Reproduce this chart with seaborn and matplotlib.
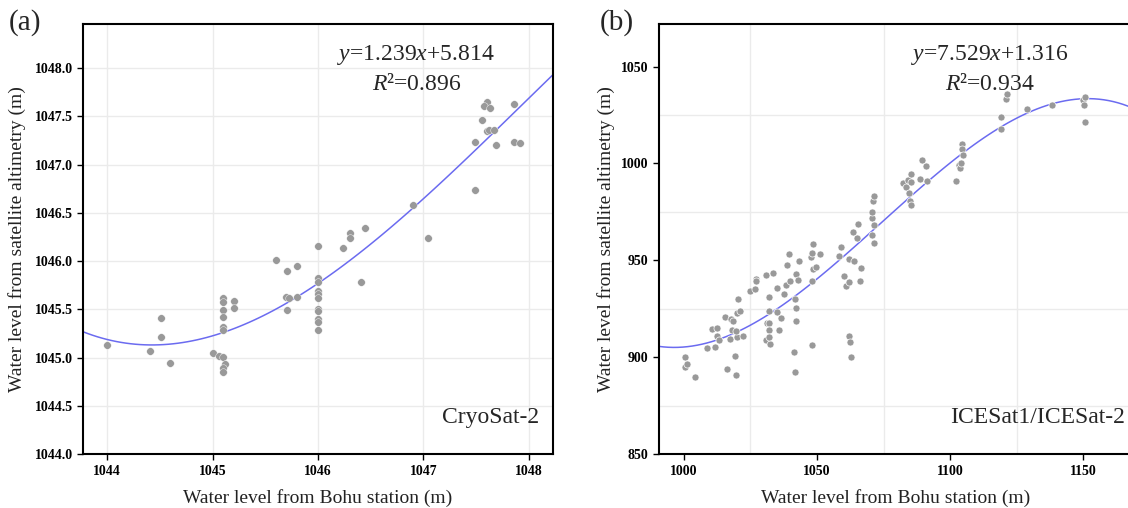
import numpy as np
import pandas as pd
import matplotlib
matplotlib.use('Agg')
import matplotlib.pyplot as plt
from matplotlib.ticker import MultipleLocator, FormatStrFormatter
import seaborn as sns

# ------------------------------
# Data
# ------------------------------
# (a) CryoSat-2
cryo_x = [1044.00, 1044.41, 1044.51, 1044.51, 1044.60,
          1045.00, 1045.06, 1045.10, 1045.12, 1045.10, 1045.10,
          1045.10, 1045.10, 1045.10, 1045.10, 1045.10, 1045.10,
          1045.20, 1045.20,
          1045.60, 1045.71, 1045.80, 1045.70, 1045.72, 1045.80, 1045.71,
          1046.00, 1046.00, 1046.00, 1046.00, 1046.00, 1046.00, 1046.00,
          1046.00, 1046.00, 1046.00, 1046.00,
          1046.24, 1046.30, 1046.30, 1046.45, 1046.41,
          1046.90, 1047.04,
          1047.49, 1047.49, 1047.56, 1047.60, 1047.57, 1047.63, 1047.60,
          1047.62, 1047.67, 1047.69, 1047.86, 1047.86, 1047.92]
cryo_y = [1045.13, 1045.07, 1045.41, 1045.21, 1044.95,
          1045.05, 1045.02, 1045.01, 1044.93, 1044.89, 1044.85,
          1045.62, 1045.58, 1045.49, 1045.42, 1045.32, 1045.29,
          1045.59, 1045.51,
          1046.01, 1045.90, 1045.95, 1045.63, 1045.62, 1045.63, 1045.49,
          1046.16, 1045.83, 1045.78, 1045.69, 1045.66, 1045.62, 1045.50,
          1045.48, 1045.40, 1045.37, 1045.29,
          1046.14, 1046.29, 1046.24, 1046.34, 1045.78,
          1046.58, 1046.24,
          1046.74, 1047.24, 1047.46, 1047.65, 1047.61, 1047.59, 1047.35,
          1047.36, 1047.36, 1047.20, 1047.63, 1047.24, 1047.23]

# (b) ICESat1/ICESat-2
ice_x = [1000.3, 1000.3, 1001.2, 1004.2, 1008.9, 1010.5, 1012.6, 1012.6, 1011.8,
         1013.4, 1015.5, 1016.2, 1017.3, 1017.8, 1018.4, 1018.2, 1019.3, 1019.6,
         1019.9, 1019.9, 1020.3, 1019.7, 1021.2, 1022.4, 1024.7, 1026.9, 1027.2,
         1027.3, 1030.9, 1030.7, 1031.9, 1032.0, 1032.2, 1031.2, 1032.0, 1032.0,
         1032.0, 1033.6, 1035.0, 1034.9, 1035.9, 1036.6, 1037.6, 1038.2, 1038.6,
         1039.6, 1039.9, 1041.5, 1041.8, 1041.9, 1042.0, 1042.0, 1042.3, 1042.8,
         1043.4, 1047.7, 1048.0, 1048.0, 1048.4, 1048.5, 1049.5, 1048.0, 1051.1,
         1059.2, 1058.4, 1060.3, 1060.8, 1061.9, 1062.0, 1062.2, 1062.6, 1062.8,
         1063.8, 1063.5, 1064.9, 1065.5, 1066.1, 1066.5, 1070.5, 1070.8, 1071.1,
         1071.4, 1071.5, 1070.8, 1071.4, 1082.2, 1083.4, 1084.3, 1084.5, 1085.4,
         1085.4, 1085.1, 1085.5, 1088.6, 1089.3, 1090.9, 1091.5, 1102.4, 1103.5,
         1103.8, 1104.2, 1104.6, 1104.6, 1104.7, 1119.2, 1119.2, 1121.0, 1121.5,
         1128.9, 1138.1, 1150.0, 1150.3, 1150.5, 1150.5]
ice_y = [900.0, 894.9, 896.4, 890.0, 904.9, 914.8, 915.2, 911.2, 905.5,
         909.0, 920.7, 893.9, 909.5, 919.6, 918.8, 914.1, 900.6, 890.9,
         910.7, 922.7, 930.0, 913.4, 924.0, 911.2, 934.1, 935.1, 940.3,
         939.1, 942.5, 909.0, 931.3, 924.0, 906.6, 917.9, 917.6, 914.1,
         910.7, 943.4, 935.6, 923.6, 914.1, 920.5, 932.6, 937.4, 947.7,
         953.4, 939.1, 902.9, 892.6, 930.0, 925.5, 918.8, 943.0, 939.9,
         949.7, 951.6, 906.1, 939.4, 958.3, 945.6, 946.5, 953.7, 953.2,
         957.0, 952.3, 942.0, 936.8, 950.6, 938.7, 911.2, 907.8, 900.0,
         949.6, 964.4, 961.3, 969.0, 939.4, 946.1, 971.9, 975.0, 980.5,
         983.3, 968.1, 963.0, 958.7, 990.0, 987.7, 991.4, 984.6, 994.6,
         990.2, 980.4, 978.3, 992.0, 1002.0, 998.8, 990.7, 990.7, 999.1,
         997.7, 1000.1, 1009.9, 1007.2, 1004.4, 1024.2, 1017.7, 1033.1, 1035.7,
         1028.0, 1030.4, 1032.8, 1030.1, 1034.5, 1021.3]

cryo = pd.DataFrame({'station': cryo_x, 'altimetry': cryo_y})
ice = pd.DataFrame({'station': ice_x, 'altimetry': ice_y})

# ------------------------------
# Style
# ------------------------------
sns.set_style('white')
plt.rcParams['font.family'] = ['Liberation Serif', 'DejaVu Serif']
plt.rcParams['mathtext.fontset'] = 'custom'
plt.rcParams['mathtext.rm'] = 'Liberation Serif'
plt.rcParams['mathtext.it'] = 'Liberation Serif:italic'

point_color = '#999999'
line_color = '#6b6bf0'
grid_color = '#ebebeb'

fig = plt.figure(figsize=(11.28, 5.08), dpi=100)
ax1 = fig.add_axes([0.0736, 0.106, 0.4167, 0.847])
ax2 = fig.add_axes([0.584, 0.106, 0.42, 0.847])


def style_axes(ax, ypad):
    for s in ax.spines.values():
        s.set_linewidth(1.5)
        s.set_color('black')
    ax.tick_params(axis='both', which='major', direction='out', length=4,
                   width=1, labelsize=10, left=True, bottom=True, colors='black')
    ax.tick_params(axis='both', which='minor', length=0)
    for lab in ax.get_xticklabels() + ax.get_yticklabels():
        lab.set_fontweight('bold')
    ax.set_xlabel('Water level from Bohu station (m)', fontsize=14, labelpad=8,
                  color='#222222')
    ax.set_ylabel('Water level from satellite altimetry (m)', fontsize=14,
                  labelpad=ypad, color='#222222')
    ax.set_axisbelow(True)


# ------------------------------
# (a) CryoSat-2
# ------------------------------
ax1.set_xlim(1043.77, 1048.23)
ax1.set_ylim(1044.0, 1048.46)
ax1.xaxis.set_major_locator(MultipleLocator(1))
ax1.yaxis.set_major_locator(MultipleLocator(0.5))
ax1.yaxis.set_major_formatter(FormatStrFormatter('%.1f'))
ax1.grid(True, which='major', color=grid_color, linewidth=1)
sns.scatterplot(data=cryo, x='station', y='altimetry', ax=ax1, color=point_color,
                s=30, edgecolor='white', linewidth=0.3, zorder=3)
sns.regplot(data=cryo, x='station', y='altimetry', ax=ax1, order=3, ci=None,
            scatter=False, truncate=False, line_kws={'color': line_color, 'lw': 1.1})
ax1.set_xlim(1043.77, 1048.23)
style_axes(ax1, 6)
ax1.text(0.875, 0.928, r'$y$=1.239$x$+5.814', transform=ax1.transAxes,
         fontsize=17, ha='right', va='center')
ax1.text(0.71, 0.858, r'$R$²=0.896', transform=ax1.transAxes,
         fontsize=17, ha='center', va='center')
ax1.text(0.97, 0.085, 'CryoSat-2', transform=ax1.transAxes,
         fontsize=17, ha='right', va='center')
fig.text(0.008, 0.955, '(a)', fontsize=21, ha='left', va='center')

# ------------------------------
# (b) ICESat1/ICESat-2
# ------------------------------
ax2.set_xlim(990.6, 1168.5)
ax2.set_ylim(850, 1072)
ax2.xaxis.set_major_locator(MultipleLocator(50))
ax2.yaxis.set_major_locator(MultipleLocator(50))
ax2.xaxis.set_minor_locator(MultipleLocator(50, offset=25))
ax2.yaxis.set_minor_locator(MultipleLocator(50, offset=25))
ax2.grid(True, which='minor', color=grid_color, linewidth=1)
ax2.grid(False, which='major')
sns.scatterplot(data=ice, x='station', y='altimetry', ax=ax2, color=point_color,
                s=26, edgecolor='white', linewidth=0.5, zorder=3)
sns.regplot(data=ice, x='station', y='altimetry', ax=ax2, order=3, ci=None,
            scatter=False, truncate=False, line_kws={'color': line_color, 'lw': 1.1})
ax2.set_xlim(990.6, 1168.5)
style_axes(ax2, 4)
ax2.text(0.865, 0.928, r'$y$=7.529$x$+1.316', transform=ax2.transAxes,
         fontsize=17, ha='right', va='center')
ax2.text(0.70, 0.858, r'$R$²=0.934', transform=ax2.transAxes,
         fontsize=17, ha='center', va='center')
ax2.text(0.985, 0.085, 'ICESat1/ICESat-2', transform=ax2.transAxes,
         fontsize=17, ha='right', va='center')
fig.text(0.532, 0.955, '(b)', fontsize=21, ha='left', va='center')

fig.savefig('out.png', dpi=100)
